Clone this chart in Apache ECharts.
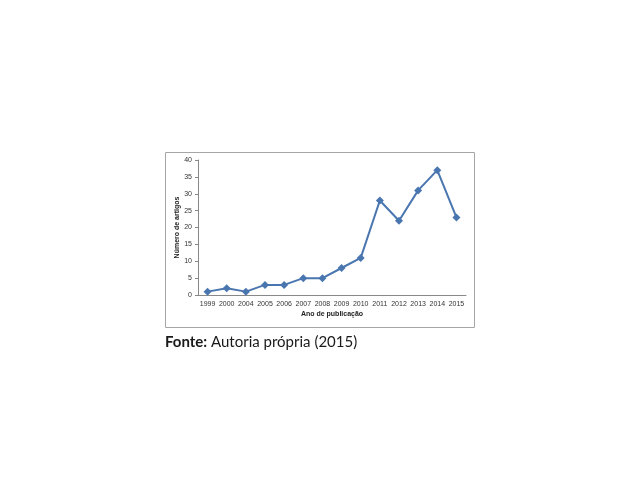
<!DOCTYPE html>
<html><head><meta charset="utf-8">
<script src="https://cdn.jsdelivr.net/npm/echarts@6/dist/echarts.min.js"></script>
<style>html,body{margin:0;padding:0;background:#fff}#c{width:640px;height:480px}</style>
</head><body><div id="c"></div>
<script>
const categories = ['1999','2000','2004','2005','2006','2007','2008','2009','2010','2011','2012','2013','2014','2015'];
const artigos = [1,2,1,3,3,5,5,8,11,28,22,31,37,23];
const yTicks = [0,5,10,15,20,25,30,35,40];

const chart = echarts.init(document.getElementById('c'), null, {renderer:'canvas'});
chart.setOption({
  animation:false,
  backgroundColor:'#fff',
  grid:{left:198, top:160, width:268, height:135, containLabel:false},
  graphic:[
    {type:'rect', shape:{x:165.5, y:152.5, width:309, height:175}, style:{fill:'none', stroke:'#a6a6a6', lineWidth:1}, z:-1},
    {type:'text', left:165, top:335, style:{text:'{b|Fonte:} Autoria própria (2015)', font:'15px Lato', fill:'#1a1a1a',
      rich:{b:{fontWeight:'bold', fontSize:15, fontFamily:'Lato', fill:'#1a1a1a'}}}}
  ],
  xAxis:{type:'category', data:categories, boundaryGap:true,
    name:'Ano de publicação', nameLocation:'middle', nameGap:16,
    nameTextStyle:{fontSize:7, fontWeight:'bold', color:'#222', fontFamily:'Liberation Sans'},
    axisLine:{lineStyle:{color:'#888', width:1}}, axisTick:{show:false},
    axisLabel:{fontSize:7, color:'#333', margin:6, interval:0, fontFamily:'Liberation Sans'}},
  yAxis:{type:'value', min:0, max:40, interval:5,
    name:'Número de artigos', nameLocation:'middle', nameGap:15, nameRotate:90,
    nameTextStyle:{fontSize:7, fontWeight:'bold', color:'#222', fontFamily:'Liberation Sans'},
    axisLine:{show:true, lineStyle:{color:'#888', width:1}}, axisTick:{show:true, length:3, lineStyle:{color:'#888'}},
    splitLine:{show:false},
    axisLabel:{fontSize:7, color:'#333', margin:6, fontFamily:'Liberation Sans',
      formatter:v=>yTicks.includes(v)?String(v):''}},
  series:[{type:'line', data:artigos, symbol:'diamond', symbolSize:8,
    lineStyle:{color:'#4a76b0', width:2}, itemStyle:{color:'#4a76b0'}}]
});
</script></body></html>
